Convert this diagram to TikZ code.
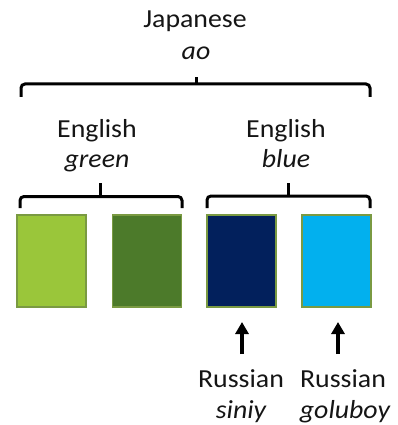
\documentclass[tikz,border=0pt]{standalone}
\usepackage{fontspec}
\usepackage{graphicx}
\setmainfont{Carlito}
\usetikzlibrary{arrows.meta}
\definecolor{txt}{HTML}{151515}
\definecolor{lgreen}{HTML}{9AC63A}
\definecolor{dgreen}{HTML}{4C7A2A}
\definecolor{navy}{HTML}{02205C}
\definecolor{sky}{HTML}{02B0EE}
\definecolor{edge}{HTML}{7A9A42}
\newcommand{\wide}[1]{\scalebox{1.07}[1]{#1}}
\tikzset{
  lbl/.style={anchor=base, inner sep=0pt, text=txt, font=\fontsize{26}{30}\selectfont},
  it/.style={lbl, font=\fontsize{26}{30}\selectfont\itshape},
  swatch/.style={draw=edge, line width=1.5pt, minimum width=69pt, minimum height=92pt, inner sep=0pt},
  brace/.style={line width=3pt, black, rounded corners=4pt},
  up/.style={line width=3.2pt, black, -{Triangle[width=13pt,length=12pt]}}
}
\begin{document}
\begin{tikzpicture}[x=1pt,y=-1pt]
\useasboundingbox (0,0) rectangle (398,425);
% swatches
\node[swatch, fill=lgreen] (b1) at (51.5,261) {};
\node[swatch, fill=dgreen] (b2) at (147,261) {};
\node[swatch, fill=navy] (b3) at (241.5,261) {};
\node[swatch, fill=sky] (b4) at (336.5,261) {};
% labels
\node[lbl] (jap) at (195,28) {\wide{Japanese}};
\node[it] (ao) at (196,60) {\wide{ao}};
\node[lbl] (eng1) at (97,137) {\wide{English}};
\node[it] (green) at (97,167) {\wide{green}};
\node[lbl] (eng2) at (286,137) {\wide{English}};
\node[it] (blue) at (286,167) {\wide{blue}};
\node[lbl] (rus1) at (241,387) {\wide{Russian}};
\node[it] (siniy) at (241,418) {\wide{siniy}};
\node[lbl] (rus2) at (343,387) {\wide{Russian}};
\node[it] (golu) at (345,418) {\wide{goluboy}};
% braces
\draw[brace] (21,97) -- (21,84) -- (370,84) -- (370,97);
\draw[brace, rounded corners=0pt] (196.5,84) -- (196.5,77);
\draw[brace] (20,208) -- (20,196.5) -- (182,196.5) -- (182,208);
\draw[brace, rounded corners=0pt] (100,196.5) -- (100,183);
\draw[brace] (207,208) -- (207,196) -- (370,196) -- (370,208);
\draw[brace, rounded corners=0pt] (288,196) -- (288,183);
% arrows
\coordinate (t1) at (242,322);
\coordinate (t2) at (338,322);
\draw[up] (242,354) -- (t1);
\draw[up] (338,354) -- (t2);
\end{tikzpicture}
\end{document}
